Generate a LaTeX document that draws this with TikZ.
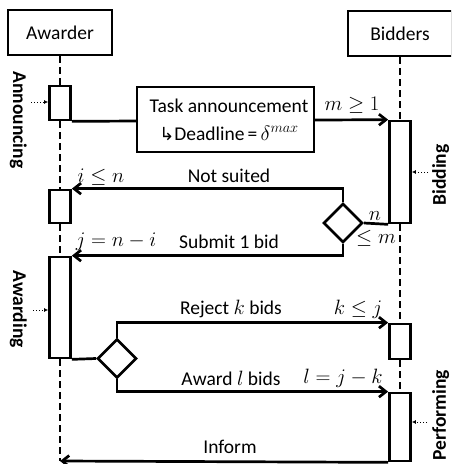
\documentclass[tikz,border=0pt]{standalone}
\usepackage{fontspec}
\setmainfont{Carlito}
\newfontfamily\dejavu{DejaVu Sans}
\usetikzlibrary{arrows.meta,shapes.geometric}
\tikzset{
  lbl/.style={font=\fontsize{19.5}{23}\selectfont, inner sep=0pt},
  head/.style={draw, line width=2.7pt, minimum width=104pt, minimum height=45pt, font=\fontsize{19.5}{23}\selectfont},
  act/.style={draw, fill=white, line width=2.7pt, minimum width=21pt, inner sep=0pt},
  dec/.style={draw, fill=white, diamond, aspect=1, line width=2.7pt, minimum size=39pt, inner sep=0pt},
  msg/.style={line width=2.7pt, -{Straight Barb[length=7pt,width=11pt]}, line join=miter},
  plain/.style={line width=2.7pt},
  life/.style={line width=2.4pt, dash pattern=on 7pt off 4pt},
  phase/.style={font=\fontsize{19.5}{23}\selectfont\bfseries, inner sep=0pt},
  hint/.style={line width=1pt, dotted, -{Latex[length=4pt,width=4pt]}}
}
\begin{document}
\begin{tikzpicture}[x=1pt,y=-1pt]
\useasboundingbox (0,0) rectangle (451,464);
\clip (0,0) rectangle (451,464);
\fill[white] (0,0) rectangle (451,464);

% heads
\node[head] (aw) at (60,32.5) {Awarder};
\node[head] (bd) at (400,33.5) {Bidders};

% activations
\node[act, minimum height=34pt] (a1) at (60,103) {};
\node[act, minimum height=33pt] (a2) at (60,206.5) {};
\node[act, minimum height=101pt] (a3) at (60,307.5) {};
\node[act, minimum height=102pt] (b1) at (400,172) {};
\node[act, minimum height=35pt] (b2) at (400,341.5) {};
\node[act, minimum height=68pt] (b3) at (400,427) {};

\coordinate (aend) at (60,461);

% lifelines
\draw[life] (aw.south) -- (a1.north);
\draw[life] (a1.south) -- (a2.north);
\draw[life] (a2.south) -- (a3.north);
\draw[life] (a3.south) -- (aend);
\draw[life] (bd.south) -- (b1.north);
\draw[life] (b1.south) -- (b2.north);
\draw[life] (b2.south) -- (b3.north);

% decisions
\node[dec] (d1) at (343,223) {};
\node[dec] (d2) at (117,358.5) {};

% messages
\draw[msg] (a1.south east) -- (b1.north west);
\node[draw, fill=white, line width=1.2pt, minimum width=177pt, minimum height=65pt,
      font=\fontsize{19.5}{28}\selectfont, align=center, inner sep=0pt] (task) at (225.5,119.5)
  {\hspace*{7pt}Task announcement\\ \hspace*{7pt}{\dejavu\fontsize{18}{18}\selectfont ↳}Deadline\,=\,$\delta^{max}$};

\draw[msg] (d1.north) |- (a2.north east);
\draw[msg] (d1.south) |- (a3.north east);
\draw[plain] (d1.east) -- (b1.south west);
\draw[plain] (a3.south east) -- (d2.west);
\draw[msg] (d2.north) |- (b2.north west);
\draw[msg] (d2.south) |- (b3.north west);
\draw[msg] (b3.south west) -- (aend);
\node[act, minimum height=68pt] at (b3) {};

% labels
\node[lbl] (lm) at (352,105) {$m \geq 1$};
\node[lbl] (lns) at (229,176) {Not suited};
\node[lbl] (lin) at (101,177) {$i \leq n$};
\node[lbl] (ln) at (375,216) {$n$};
\node[lbl] (lm2) at (376,238) {$\leq m$};
\node[lbl] (ljn) at (116,242) {$j = n - i$};
\node[lbl] (lsb) at (229,242) {Submit 1 bid};
\node[lbl] (lrk) at (231,309) {Reject $k$ bids};
\node[lbl] (lkj) at (358,309) {$k \leq j$};
\node[lbl] (lal) at (231,378) {Award $l$ bids};
\node[lbl] (llj) at (343,378) {$l = j - k$};
\node[lbl] (linf) at (230,447) {Inform};

% phases
\node[phase, rotate=-90, anchor=north] (pann) at (27,120) {Announcing};
\node[phase, rotate=-90, anchor=north] (pawd) at (27,309) {Awarding};
\node[phase, rotate=90, anchor=north] (pbid) at (432,175) {Bidding};
\node[phase, rotate=90, anchor=north] (pper) at (432,415) {Performing};

% hint arrows
\coordinate (h1) at (31,102);
\coordinate (h2) at (33,310);
\coordinate (h3) at (428,172);
\coordinate (h4) at (427,422);
\draw[hint] (h1) -- (a1.west |- h1);
\draw[hint] (h2) -- (a3.west |- h2);
\draw[hint] (h3) -- (b1.east |- h3);
\draw[hint] (h4) -- (b3.east |- h4);
\end{tikzpicture}
\end{document}
